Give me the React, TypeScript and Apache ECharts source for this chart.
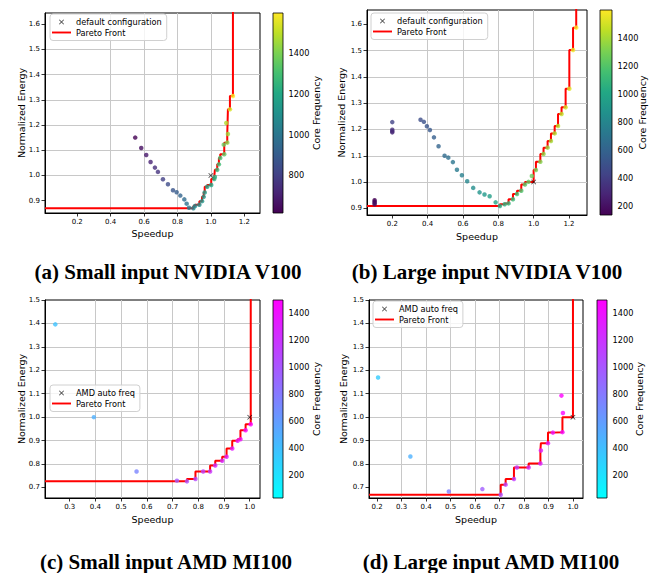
import React, { useEffect, useRef } from 'react';
import * as echarts from 'echarts';

// ---------- Panel (a): Small input NVIDIA V100 ----------
const speedupA = [0.547, 0.583, 0.613, 0.639, 0.665, 0.683, 0.713, 0.743, 0.773, 0.795, 0.817, 0.841, 0.855, 0.869, 0.895, 0.905, 0.931, 0.947, 0.957, 0.963, 0.978, 1.002, 1.020, 1.024, 1.038, 1.048, 1.056, 1.077, 1.080, 1.092, 1.098, 1.102, 1.114, 1.132];
const energyA = [1.150, 1.109, 1.081, 1.053, 1.031, 1.014, 0.985, 0.965, 0.941, 0.933, 0.920, 0.905, 0.888, 0.872, 0.870, 0.879, 0.884, 0.898, 0.915, 0.932, 0.955, 0.962, 0.986, 0.994, 1.022, 1.044, 1.069, 1.122, 1.084, 1.208, 1.130, 1.164, 1.262, 1.315];
const freqA = [615, 650, 680, 710, 740, 760, 800, 840, 875, 900, 930, 960, 985, 1010, 1050, 1070, 1100, 1125, 1140, 1150, 1175, 1200, 1230, 1240, 1265, 1285, 1300, 1370, 1350, 1480, 1420, 1450, 1540, 1597];
const defaultA = [1.0, 1.0];
const xTicksA = [0.2, 0.4, 0.6, 0.8, 1.0, 1.2];
const yTicksA = [0.9, 1.0, 1.1, 1.2, 1.3, 1.4, 1.5, 1.6];
const cTicksA = [800, 1000, 1200, 1400];

// ---------- Panel (b): Large input NVIDIA V100 ----------
const speedupB = [0.1, 0.1, 0.1, 0.1, 0.2, 0.2, 0.2, 0.2, 0.360, 0.379, 0.396, 0.413, 0.436, 0.462, 0.496, 0.517, 0.543, 0.566, 0.594, 0.624, 0.658, 0.694, 0.722, 0.751, 0.785, 0.809, 0.836, 0.858, 0.883, 0.906, 0.930, 0.951, 0.971, 0.990, 1.013, 1.038, 1.056, 1.079, 1.098, 1.119, 1.138, 1.158, 1.181, 1.202, 1.223, 1.241];
const energyB = [0.931, 0.926, 0.921, 0.916, 1.228, 1.199, 1.193, 1.189, 1.237, 1.229, 1.212, 1.198, 1.170, 1.136, 1.100, 1.093, 1.076, 1.047, 1.026, 1.003, 0.978, 0.961, 0.953, 0.946, 0.923, 0.909, 0.916, 0.919, 0.935, 0.955, 0.967, 0.991, 1.001, 1.023, 1.046, 1.077, 1.107, 1.131, 1.156, 1.185, 1.213, 1.259, 1.284, 1.355, 1.502, 1.587];
const freqB = [135, 150, 165, 180, 420, 330, 315, 300, 480, 500, 520, 540, 570, 600, 640, 665, 700, 730, 760, 800, 840, 880, 915, 950, 995, 1025, 1060, 1090, 1120, 1150, 1180, 1210, 1235, 1260, 1290, 1320, 1345, 1370, 1395, 1420, 1440, 1465, 1490, 1530, 1560, 1597];
const defaultB = [1.0, 1.0];
const xTicksB = [0.2, 0.4, 0.6, 0.8, 1.0, 1.2];
const yTicksB = [0.9, 1.0, 1.1, 1.2, 1.3, 1.4, 1.5, 1.6];
const cTicksB = [200, 400, 600, 800, 1000, 1200, 1400];

// ---------- Panel (c): Small input AMD MI100 ----------
const speedupC = [0.244, 0.394, 0.560, 0.717, 0.756, 0.789, 0.819, 0.846, 0.866, 0.893, 0.910, 0.932, 0.953, 0.964, 0.984, 1.004];
const energyC = [1.396, 1.000, 0.768, 0.729, 0.726, 0.736, 0.768, 0.768, 0.794, 0.814, 0.831, 0.866, 0.899, 0.906, 0.944, 0.970];
const freqC = [380, 480, 735, 965, 1040, 1090, 1130, 1175, 1220, 1265, 1305, 1350, 1380, 1410, 1455, 1500];
const defaultC = [1.0, 1.0];
const xTicksC = [0.3, 0.4, 0.5, 0.6, 0.7, 0.8, 0.9, 1.0];
const yTicksC = [0.7, 0.8, 0.9, 1.0, 1.1, 1.2, 1.3, 1.4, 1.5];
const cTicksC = [200, 400, 600, 800, 1000, 1200, 1400];

// ---------- Panel (d): Large input AMD MI100 ----------
const speedupD = [0.204, 0.336, 0.493, 0.630, 0.705, 0.725, 0.759, 0.771, 0.819, 0.867, 0.869, 0.898, 0.918, 0.957, 0.959, 0.953];
const energyD = [1.169, 0.832, 0.683, 0.693, 0.669, 0.712, 0.736, 0.785, 0.785, 0.802, 0.858, 0.889, 0.934, 0.936, 1.018, 1.092];
const freqD = [320, 470, 760, 955, 1055, 1100, 1150, 1170, 1230, 1300, 1310, 1350, 1390, 1450, 1470, 1500];
const defaultD = [1.0, 1.0];
const xTicksD = [0.2, 0.3, 0.4, 0.5, 0.6, 0.7, 0.8, 0.9, 1.0];
const yTicksD = [0.7, 0.8, 0.9, 1.0, 1.1, 1.2, 1.3, 1.4, 1.5];
const cTicksD = [200, 400, 600, 800, 1000, 1200, 1400];

// ---------- colour maps ----------
const VIRIDIS = ['#440154', '#482475', '#414487', '#355f8d', '#2a788e', '#21918c', '#22a884', '#44bf70', '#7ad151', '#bddf26', '#fde725'];
const COOL = ['#00ffff', '#ff00ff'];

const X_PATH = 'path://M0,1 L1,0 L5,4 L9,0 L10,1 L6,5 L10,9 L9,10 L5,6 L1,10 L0,9 L4,5 Z';
const LINE_ICON = 'path://M0,0 L20,0 L20,2 L0,2 Z';
const FONT = 'DejaVu Sans';

function paretoFront(xs: number[], ys: number[], extra: number[]): number[][] {
  const pts = xs.map((x, i) => [x, ys[i]]).concat([extra]);
  pts.sort((p, q) => q[0] - p[0] || p[1] - q[1]);
  const front: number[][] = [];
  let minY = Infinity;
  for (const p of pts) {
    if (p[1] < minY) {
      front.push(p);
      minY = p[1];
    }
  }
  return front.reverse();
}

const panels = [
  {
    sx: speedupA, sy: energyA, sf: freqA, def: defaultA, xt: xTicksA, yt: yTicksA, ct: cTicksA,
    xr: [0.007, 1.294], yr: [0.851, 1.644], cr: [615, 1597], cmap: VIRIDIS,
    grid: { left: 45, top: 13, width: 215, height: 200 },
    cb: { left: 273, top: 13, width: 10, height: 200 },
    gaps: { x: 15, y: 19, c: 28 },
    defName: 'default configuration',
    legend: { left: 50, top: 14 },
    caption: { text: '(a) Small input NVIDIA V100', x: 168, top: 261 },
  },
  {
    sx: speedupB, sy: energyB, sf: freqB, def: defaultB, xt: xTicksB, yt: yTicksB, ct: cTicksB,
    xr: [0.057, 1.302], yr: [0.875, 1.654], cr: [135, 1597], cmap: VIRIDIS,
    grid: { left: 367, top: 10, width: 220, height: 205 },
    cb: { left: 600, top: 10, width: 12, height: 205 },
    gaps: { x: 16.5, y: 21, c: 25.5 },
    defName: 'default configuration',
    legend: { left: 371, top: 13 },
    caption: { text: '(b) Large input NVIDIA V100', x: 487, top: 261 },
  },
  {
    sx: speedupC, sy: energyC, sf: freqC, def: defaultC, xt: xTicksC, yt: yTicksC, ct: cTicksC,
    xr: [0.204, 1.040], yr: [0.655, 1.5], cr: [25, 1500], cmap: COOL,
    grid: { left: 45, top: 300, width: 215, height: 198 },
    cb: { left: 273, top: 300, width: 10, height: 198 },
    gaps: { x: 16.5, y: 19, c: 28.5 },
    defName: 'AMD auto freq',
    legend: { left: 50, top: 385 },
    caption: { text: '(c) Small input AMD MI100', x: 166, top: 551 },
  },
  {
    sx: speedupD, sy: energyD, sf: freqD, def: defaultD, xt: xTicksD, yt: yTicksD, ct: cTicksD,
    xr: [0.167, 1.041], yr: [0.655, 1.5], cr: [25, 1500], cmap: COOL,
    grid: { left: 369, top: 300, width: 214, height: 198 },
    cb: { left: 597, top: 300, width: 10, height: 198 },
    gaps: { x: 16.5, y: 20.5, c: 27 },
    defName: 'AMD auto freq',
    legend: { left: 373, top: 301 },
    caption: { text: '(d) Large input AMD MI100', x: 491, top: 551 },
  },
];

function buildOption() {
  const grid: any[] = [];
  const xAxis: any[] = [];
  const yAxis: any[] = [];
  const series: any[] = [];
  const visualMap: any[] = [];
  const legend: any[] = [];
  const title: any[] = [];

  panels.forEach((p, k) => {
    const gi = k * 2;
    const ci = k * 2 + 1;
    grid.push({ ...p.grid, show: true, borderColor: '#000', borderWidth: 1, backgroundColor: 'transparent', containLabel: false, outerBoundsMode: 'none' });
    grid.push({ ...p.cb, show: false, containLabel: false, outerBoundsMode: 'none' });

    const tickStyle = { show: true, length: 3.5, inside: false, lineStyle: { color: '#000', width: 0.8 } };
    const fmt1 = (v: number) => v.toFixed(1);

    xAxis.push({
      type: 'value', gridIndex: gi, min: p.xr[0], max: p.xr[1],
      minInterval: p.xt[1] - p.xt[0], maxInterval: p.xt[1] - p.xt[0],
      axisLine: { show: true, onZero: false, lineStyle: { color: '#000', width: 1 } },
      axisTick: { ...tickStyle, customValues: p.xt },
      axisLabel: { fontSize: 7, color: '#000', margin: 5, fontFamily: FONT, customValues: p.xt, formatter: fmt1 },
      splitLine: { show: true, showMinLine: false, showMaxLine: false, lineStyle: { color: '#c8c8c8', width: 1 } },
      name: 'Speedup', nameLocation: 'middle', nameGap: p.gaps.x, nameMoveOverlap: false,
      nameTextStyle: { fontSize: 9.5, color: '#000', fontFamily: FONT },
    });
    yAxis.push({
      type: 'value', gridIndex: gi, min: p.yr[0], max: p.yr[1],
      minInterval: 0.1, maxInterval: 0.1,
      axisLine: { show: true, onZero: false, lineStyle: { color: '#000', width: 1 } },
      axisTick: { ...tickStyle, customValues: p.yt },
      axisLabel: { fontSize: 7, color: '#000', margin: 5, fontFamily: FONT, customValues: p.yt, formatter: fmt1 },
      splitLine: { show: true, showMinLine: false, showMaxLine: false, lineStyle: { color: '#c8c8c8', width: 1 } },
      name: 'Normalized Energy', nameLocation: 'middle', nameGap: p.gaps.y, nameRotate: 90, nameMoveOverlap: false,
      nameTextStyle: { fontSize: 9.5, color: '#000', fontFamily: FONT },
    });
    // colorbar axes
    xAxis.push({ type: 'value', gridIndex: ci, min: -1, max: 1, show: false });
    yAxis.push({
      type: 'value', gridIndex: ci, min: p.cr[0], max: p.cr[1], position: 'right',
      minInterval: 200, maxInterval: 200,
      axisLine: { show: false },
      axisTick: { ...tickStyle, customValues: p.ct },
      axisLabel: { fontSize: 8.2, color: '#000', margin: 5.5, fontFamily: FONT, customValues: p.ct, formatter: (v: number) => String(Math.round(v)) },
      splitLine: { show: false },
      name: 'Core Frequency', nameLocation: 'middle', nameGap: p.gaps.c, nameRotate: 90, nameMoveOverlap: false,
      nameTextStyle: { fontSize: 9.5, color: '#000', fontFamily: FONT },
    });

    const front = paretoFront(p.sx, p.sy, p.def);
    const last = front[front.length - 1];
    const lineData = [[p.xr[0], front[0][1]], ...front, [last[0], p.yr[1] + 1]];

    series.push({
      type: 'line', name: 'Pareto Front', xAxisIndex: gi, yAxisIndex: gi,
      data: lineData, step: 'start', symbol: 'none', showSymbol: false, clip: true,
      lineStyle: { color: '#ff0000', width: 2 }, itemStyle: { color: '#ff0000' }, z: 2, silent: true,
    });
    const scatterIndex = series.length;
    series.push({
      type: 'scatter', name: 'points' + k, xAxisIndex: gi, yAxisIndex: gi,
      data: p.sx.map((x, i) => [x, p.sy[i], p.sf[i]]), symbolSize: 4.5, z: 3, silent: true,
    });
    series.push({
      type: 'scatter', name: p.defName, xAxisIndex: gi, yAxisIndex: gi,
      data: [p.def], symbol: X_PATH, symbolSize: 5, itemStyle: { color: '#000' }, z: 4, silent: true,
    });
    const stops = p.cmap.map((c, i) => ({ offset: i / (p.cmap.length - 1), color: c }));
    series.push({
      type: 'custom', xAxisIndex: ci, yAxisIndex: ci, data: [[0, p.cr[0]]], silent: true,
      renderItem: (params: any, api: any) => {
        const top = api.coord([0, p.cr[1]]);
        const bot = api.coord([0, p.cr[0]]);
        const cs = params.coordSys;
        return {
          type: 'rect',
          shape: { x: cs.x, y: top[1], width: cs.width, height: bot[1] - top[1] },
          style: { fill: new echarts.graphic.LinearGradient(0, 1, 0, 0, stops), stroke: '#000', lineWidth: 0.8 },
        };
      },
    });
    visualMap.push({
      type: 'continuous', show: false, seriesIndex: scatterIndex, dimension: 2,
      min: p.cr[0], max: p.cr[1], inRange: { color: p.cmap },
    });
    legend.push({
      left: p.legend.left, top: p.legend.top, orient: 'vertical',
      data: [
        { name: p.defName, icon: X_PATH, itemStyle: { color: '#000' } },
        { name: 'Pareto Front', icon: LINE_ICON, itemStyle: { color: '#ff0000' } },
      ],
      itemWidth: 19, itemHeight: 5, itemGap: 2.5, padding: [4, 5, 4, 2],
      backgroundColor: 'rgba(255,255,255,0.8)', borderColor: '#d0d0d0', borderWidth: 1, borderRadius: 3,
      textStyle: { fontSize: 8.2, color: '#000', fontFamily: FONT },
      selectedMode: false,
    });
    title.push({
      text: p.caption.text, left: p.caption.x, top: p.caption.top, textAlign: 'center', padding: 0,
      textStyle: { fontFamily: 'Liberation Serif', fontWeight: 'bold', fontSize: 21, color: '#000' },
    });
  });

  return {
    animation: false,
    backgroundColor: '#ffffff',
    textStyle: { fontFamily: FONT },
    title, grid, xAxis, yAxis, series, visualMap, legend,
  };
}

export default function App() {
  const ref = useRef<HTMLDivElement>(null);
  useEffect(() => {
    if (!ref.current) return;
    const chart = echarts.init(ref.current, null, { renderer: 'svg' });
    chart.setOption(buildOption() as any);
    return () => chart.dispose();
  }, []);
  return (
    <div
      ref={ref}
      style={{ position: 'fixed', left: 0, top: 0, width: 650, height: 573, background: '#fff' }}
    />
  );
}
